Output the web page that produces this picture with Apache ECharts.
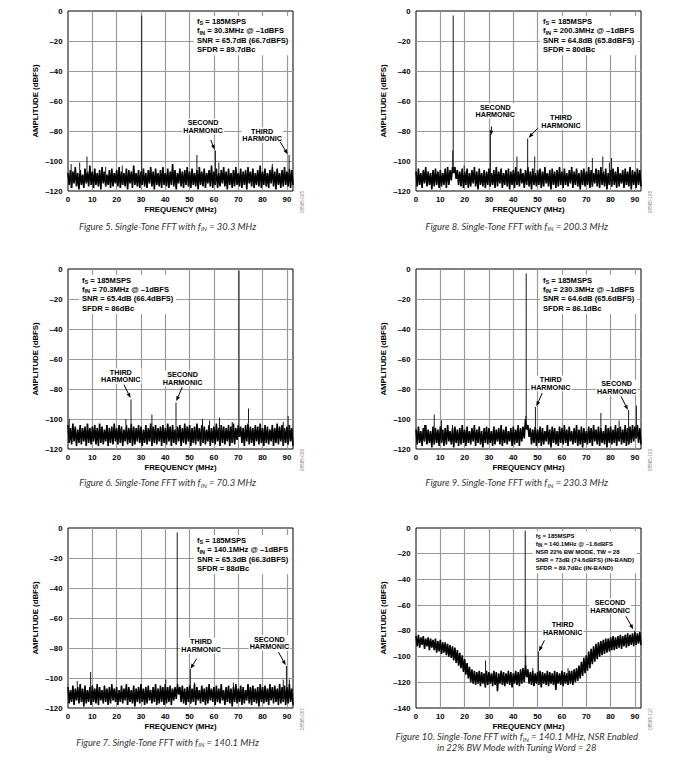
<!DOCTYPE html>
<html><head><meta charset="utf-8">
<script src="https://cdn.jsdelivr.net/npm/echarts@6/dist/echarts.min.js"></script>
<style>html,body{margin:0;padding:0;background:#fff}#c{width:690px;height:771px}</style>
</head><body><div id="c"></div>
<script>
// ---------------- DATA ----------------
const binStep = 0.5;            // MHz between plotted FFT bins (0 .. 92.5 MHz)
const freqMax = 92.5;           // fS/2
const yTicks120 = [-120, 0];    // dBFS range, standard plots
const yTicks140 = [-140, 0];    // dBFS range, NSR plot

// Figure 5, fIN = 30.3 MHz
const noise5 = [
-108,-116,-106,-118,-107,-115,-104,-117,-108,-119,-106,-116,-109,-118,-105,-115,-107,-117,-103,-116,
-107,-118,-105,-116,-108,-117,-106,-119,-104,-115,-107,-117,-109,-116,-106,-118,-105,-117,-108,-115,
-106,-117,-104,-118,-107,-116,-108,-117,-105,-119,-106,-115,-107,-118,-103,-116,-108,-117,-106,-118,
-107,-116,-105,-117,-108,-118,-106,-115,-104,-117,-107,-119,-105,-116,-108,-117,-106,-118,-104,-116,
-108,-117,-105,-118,-107,-116,-102,-117,-106,-119,-108,-115,-105,-117,-107,-118,-106,-116,-104,-117,
-107,-118,-105,-116,-108,-117,-106,-119,-104,-116,-107,-117,-105,-118,-108,-115,-106,-117,-103,-118,
-107,-116,-105,-118,-108,-117,-106,-115,-104,-117,-107,-119,-105,-116,-108,-118,-106,-117,-104,-116,
-108,-117,-105,-118,-107,-116,-106,-119,-104,-115,-107,-117,-105,-118,-108,-116,-106,-117,-103,-118,
-107,-116,-105,-117,-108,-118,-106,-115,-104,-117,-107,-119,-105,-116,-108,-118,-106,-117,-104,-116,
-107,-117,-105,-118,-106,-116];
const spurs5 = [[30.3,-3],[60.6,-93],[90.9,-96],[7.8,-97],[53.0,-96],[1.3,-102],[4.8,-101],[22.3,-103],[62.0,-101],[84.0,-102],[15.5,-104]];

// Figure 8, fIN = 200.3 MHz
const noise8 = [
-107,-117,-105,-116,-108,-118,-106,-115,-104,-117,-107,-116,-108,-119,-106,-117,-105,-116,-107,-118,
-106,-117,-108,-116,-105,-118,-104,-116,-106,-113,-104,-108,-104,-112,-106,-116,-107,-117,-105,-118,
-107,-116,-105,-118,-108,-117,-106,-115,-104,-117,-107,-119,-105,-116,-108,-117,-106,-118,-107,-116,
-105,-117,-108,-116,-106,-118,-104,-117,-107,-115,-105,-118,-108,-116,-106,-117,-105,-119,-107,-116,
-106,-118,-104,-116,-107,-117,-105,-115,-108,-118,-106,-116,-104,-117,-107,-119,-105,-116,-108,-117,
-106,-116,-105,-118,-107,-117,-104,-115,-108,-117,-106,-119,-105,-116,-107,-118,-106,-117,-104,-116,
-107,-118,-105,-116,-108,-117,-106,-115,-104,-118,-107,-116,-105,-117,-108,-119,-106,-116,-105,-117,
-107,-116,-104,-118,-106,-117,-108,-115,-105,-117,-106,-118,-104,-116,-107,-117,-105,-119,-108,-116,
-106,-117,-105,-116,-107,-118,-104,-117,-108,-115,-106,-118,-105,-116,-107,-117,-104,-119,-106,-116,
-107,-118,-105,-116,-106,-117];
const spurs8 = [[15.1,-93],[15.3,-3],[30.6,-82],[45.9,-85],[41.5,-97],[48.8,-97],[72.5,-98],[76.8,-97],[80.4,-98],[79.5,-101],[19.8,-103]];

// Figure 6, fIN = 70.3 MHz
const noise6 = [
-104,-116,-106,-117,-103,-115,-105,-118,-107,-116,-104,-117,-106,-115,-105,-118,-103,-116,-106,-117,
-105,-115,-104,-117,-106,-118,-103,-116,-105,-117,-107,-115,-104,-118,-106,-116,-105,-117,-103,-115,
-106,-117,-104,-116,-105,-118,-107,-115,-104,-117,-106,-116,-103,-118,-105,-117,-106,-115,-104,-116,
-105,-118,-107,-116,-104,-117,-106,-115,-103,-118,-105,-116,-104,-117,-106,-115,-105,-118,-104,-116,
-106,-117,-103,-115,-105,-118,-104,-116,-107,-117,-105,-115,-104,-118,-106,-116,-103,-117,-105,-115,
-104,-118,-106,-116,-105,-117,-103,-115,-106,-118,-104,-116,-105,-117,-107,-115,-104,-118,-106,-116,
-105,-117,-103,-115,-106,-118,-104,-116,-105,-117,-106,-115,-104,-118,-105,-116,-103,-117,-106,-114,
-104,-112,-105,-116,-106,-118,-104,-115,-103,-117,-105,-116,-106,-118,-104,-115,-105,-117,-103,-116,
-106,-118,-104,-116,-105,-117,-107,-115,-104,-118,-106,-116,-103,-117,-105,-115,-104,-118,-106,-116,
-105,-117,-104,-115,-106,-118];
const spurs6 = [[70.3,-1],[25.9,-87],[44.4,-89],[34.5,-97],[62.3,-99],[74.2,-93],[90.5,-98],[55.3,-100],[23.8,-100],[0.5,-100],[67.5,-102],[58.2,-101],[88.5,-102]];

// Figure 9, fIN = 230.3 MHz
const noise9 = [
-107,-117,-105,-116,-108,-118,-106,-115,-104,-117,-107,-116,-108,-119,-105,-117,-106,-116,-107,-118,
-105,-116,-107,-118,-106,-117,-104,-115,-108,-117,-106,-119,-105,-116,-107,-118,-106,-117,-104,-116,
-107,-118,-105,-116,-108,-117,-106,-115,-104,-118,-107,-116,-105,-117,-108,-119,-106,-116,-105,-117,
-106,-116,-108,-118,-105,-117,-107,-115,-106,-117,-104,-118,-107,-116,-105,-117,-108,-115,-106,-118,
-105,-117,-107,-116,-104,-118,-106,-115,-105,-113,-100,-107,-104,-112,-106,-117,-107,-116,-105,-118,
-107,-116,-105,-118,-106,-117,-108,-115,-104,-117,-107,-119,-105,-116,-106,-117,-108,-118,-105,-116,
-106,-117,-104,-116,-107,-118,-105,-115,-108,-117,-106,-116,-104,-118,-107,-117,-105,-119,-106,-116,
-108,-117,-105,-116,-106,-118,-104,-115,-107,-117,-105,-118,-106,-116,-108,-117,-104,-119,-106,-116,
-105,-117,-107,-116,-104,-118,-106,-115,-105,-117,-107,-116,-104,-118,-106,-117,-105,-116,-104,-115,
-105,-113,-104,-116,-106,-117];
const spurs9 = [[45.3,-3],[45.2,-98],[49.1,-92],[87.4,-94],[90.6,-91],[76.0,-96],[7.5,-97],[10.5,-101],[83.5,-101],[15.0,-104],[3.5,-104]];

// Figure 7, fIN = 140.1 MHz
const noise7 = [
-106,-117,-108,-116,-105,-118,-107,-115,-106,-117,-104,-116,-107,-119,-105,-117,-108,-116,-106,-118,
-105,-116,-107,-117,-104,-118,-106,-115,-108,-117,-105,-116,-107,-118,-106,-117,-104,-115,-107,-116,
-106,-118,-108,-116,-105,-117,-107,-115,-104,-118,-106,-116,-108,-117,-105,-119,-107,-116,-106,-117,
-104,-116,-107,-118,-106,-117,-105,-115,-108,-117,-106,-116,-104,-118,-107,-117,-105,-116,-106,-118,
-104,-117,-106,-116,-105,-118,-107,-115,-106,-114,-104,-111,-106,-116,-105,-117,-107,-118,-106,-116,
-105,-117,-107,-116,-104,-118,-106,-115,-108,-117,-105,-116,-107,-118,-106,-117,-104,-115,-107,-116,
-106,-118,-105,-116,-107,-117,-104,-115,-108,-118,-106,-116,-105,-117,-107,-119,-106,-116,-104,-117,
-107,-116,-105,-118,-106,-117,-108,-115,-104,-117,-106,-118,-105,-116,-107,-117,-106,-119,-104,-116,
-106,-117,-105,-116,-107,-118,-104,-115,-106,-117,-105,-116,-107,-118,-104,-117,-106,-116,-105,-118,
-106,-117,-104,-116,-107,-118];
const spurs7 = [[44.9,-3],[50.3,-94],[89.8,-92],[9.3,-96],[40.2,-101],[3.8,-102],[88.5,-101],[91.0,-101],[52.0,-103],[68.0,-103]];

// Figure 10, fIN = 140.1 MHz, NSR enabled
const noise10 = [
-84,-92,-83,-93,-85,-91,-84,-94,-86,-92,-85,-95,-86,-93,-87,-95,-86,-97,-88,-96,
-87,-98,-89,-97,-89,-99,-90,-100,-91,-101,-92,-103,-93,-105,-95,-107,-97,-109,-99,-112,
-102,-114,-105,-117,-108,-120,-110,-121,-111,-122,-112,-121,-111,-123,-112,-121,-113,-124,-111,-122,
-112,-121,-113,-123,-111,-122,-112,-127,-113,-121,-111,-122,-112,-123,-113,-121,-111,-122,-112,-124,
-113,-121,-111,-122,-112,-123,-110,-121,-109,-120,-106,-116,-110,-121,-112,-122,-111,-123,-113,-121,
-112,-122,-111,-124,-112,-121,-113,-122,-111,-123,-112,-121,-113,-122,-111,-126,-112,-121,-113,-122,
-111,-123,-112,-121,-113,-122,-111,-121,-111,-122,-110,-120,-109,-119,-107,-117,-104,-115,-101,-113,
-99,-111,-96,-109,-94,-106,-92,-104,-90,-102,-89,-100,-88,-99,-87,-98,-86,-97,-86,-96,
-85,-95,-84,-95,-85,-94,-84,-93,-83,-94,-84,-92,-83,-93,-82,-92,-83,-91,-82,-92,
-81,-91,-82,-90,-81,-91];
const spurs10 = [[28.6,-103],[44.9,-2],[45.1,-99],[50.3,-96],[48.0,-109],[62.5,-109],[89.8,-80]];

// Text
const notes5  = ['f{s|S} = 185MSPS','f{s|IN} = 30.3MHz @ –1dBFS','SNR = 65.7dB (66.7dBFS)','SFDR = 89.7dBc'];
const notes8  = ['f{s|S} = 185MSPS','f{s|IN} = 200.3MHz @ –1dBFS','SNR = 64.8dB (65.8dBFS)','SFDR = 80dBc'];
const notes6  = ['f{s|S} = 185MSPS','f{s|IN} = 70.3MHz @ –1dBFS','SNR = 65.4dB (66.4dBFS)','SFDR = 86dBc'];
const notes9  = ['f{s|S} = 185MSPS','f{s|IN} = 230.3MHz @ –1dBFS','SNR = 64.6dB (65.6dBFS)','SFDR = 86.1dBc'];
const notes7  = ['f{s|S} = 185MSPS','f{s|IN} = 140.1MHz @ –1dBFS','SNR = 65.3dB (66.3dBFS)','SFDR = 88dBc'];
const notes10 = ['f{s|S} = 185MSPS','f{s|IN} = 140.1MHz @ –1.6dBFS','NSR 22% BW MODE, TW = 28','SNR = 73dB (74.6dBFS) (IN-BAND)','SFDR = 89.7dBc (IN-BAND)'];
const captions = [
  'Figure 5. Single-Tone FFT with f{s|IN} = 30.3 MHz',
  'Figure 8. Single-Tone FFT with f{s|IN} = 200.3 MHz',
  'Figure 6. Single-Tone FFT with f{s|IN} = 70.3 MHz',
  'Figure 9. Single-Tone FFT with f{s|IN} = 230.3 MHz',
  'Figure 7. Single-Tone FFT with f{s|IN} = 140.1 MHz',
  'Figure 10. Single-Tone FFT with f{s|IN} = 140.1 MHz, NSR Enabled\nin 22% BW Mode with Tuning Word = 28'];
const figIds = ['08565-005','08565-108','08565-006','08565-109','08565-007','08565-110'];
const harmonicLabels = [
  [{t:'SECOND\nHARMONIC', at:[55.5,-77.1], from:[58.7,-86], to:[60.3,-92.5]},
   {t:'THIRD\nHARMONIC',  at:[79.8,-82.7], from:[87.2,-87.1], to:[90.3,-95.5]}],
  [{t:'SECOND\nHARMONIC', at:[32.6,-66.7], from:[31.1,-77], to:[30.8,-83]},
   {t:'THIRD\nHARMONIC',  at:[59.6,-73.9], from:[50,-78.2], to:[46.3,-84.5]}],
  [{t:'THIRD\nHARMONIC',  at:[21.7,-71.3], from:[23,-77.1], to:[25.7,-86]},
   {t:'SECOND\nHARMONIC', at:[47.1,-72.9], from:[47,-78.7], to:[44.5,-88]}],
  [{t:'THIRD\nHARMONIC',  at:[55.4,-76.3], from:[51.9,-82.7], to:[49.5,-91.5]},
   {t:'SECOND\nHARMONIC', at:[82.5,-79], from:[84.3,-84.9], to:[87.1,-94]}],
  [{t:'THIRD\nHARMONIC',  at:[54.7,-78.4], from:[52.9,-87.1], to:[50.4,-93.8]},
   {t:'SECOND\nHARMONIC', at:[82.8,-76.7], from:[86.5,-82.7], to:[89.5,-91.5]}],
  [{t:'THIRD\nHARMONIC',  at:[60.3,-78.2], from:[52.8,-87.4], to:[50.5,-96]},
   {t:'SECOND\nHARMONIC', at:[79.8,-60.9], from:[86.3,-68.7], to:[89.3,-78.8]}]];

// ---------------- LAYOUT ----------------
const panels = [
  {noise:noise5,  spurs:spurs5,  notes:notes5,  yr:yTicks120, left:68,  top:11,  note:[126,5],   cap:[167.5,226]},
  {noise:noise8,  spurs:spurs8,  notes:notes8,  yr:yTicks120, left:416, top:11,  note:[124,5],   cap:[516.7,226]},
  {noise:noise6,  spurs:spurs6,  notes:notes6,  yr:yTicks120, left:68,  top:269, note:[11,5.7],  cap:[167.5,482.7]},
  {noise:noise9,  spurs:spurs9,  notes:notes9,  yr:yTicks120, left:416, top:269, note:[124,5.7], cap:[516.7,482.7]},
  {noise:noise7,  spurs:spurs7,  notes:notes7,  yr:yTicks120, left:68,  top:528, note:[126,7],   cap:[167.5,742.3]},
  {noise:noise10, spurs:spurs10, notes:notes10, yr:yTicks140, left:416, top:528, note:[116.7,3.3], cap:[516.7,742.3], small:true}
];
const W = 225, H = 180;
const FONT = '"Liberation Sans", Arial, sans-serif';

const noisePts = noise => noise.map((v,i)=>[i*binStep, v]);
// each spur rises from the noise value of its nearest bin
const spurPts = (noise, spurs) => spurs.map(s => [s[0], s[1], noise[Math.min(noise.length-1, Math.round(s[0]/binStep))]]);
const dash = v => v < 0 ? '–' + (-v) : String(v);

const option = {animation:false, backgroundColor:'#fff', grid:[], xAxis:[], yAxis:[], series:[]};
panels.forEach((p,i)=>{
  option.grid.push({left:p.left, top:p.top, width:W, height:H, show:true, borderColor:'#000', borderWidth:1, backgroundColor:'transparent'});
  option.xAxis.push({type:'value', gridIndex:i, min:0, max:freqMax, interval:10,
    name:'FREQUENCY (MHz)', nameLocation:'middle', nameGap:14,
    nameTextStyle:{fontFamily:FONT, fontWeight:'bold', fontSize:7.8, color:'#000'},
    axisLine:{show:false}, axisTick:{show:false},
    axisLabel:{fontFamily:FONT, fontWeight:'bold', fontSize:7.8, color:'#000', margin:4, showMaxLabel:false},
    splitLine:{show:true, showMinLine:false, showMaxLine:false, lineStyle:{color:'#9a9a9a', width:1.2}}});
  option.yAxis.push({type:'value', gridIndex:i, min:p.yr[0], max:p.yr[1], interval:20,
    name:'AMPLITUDE (dBFS)', nameLocation:'middle', nameGap:29, nameRotate:90,
    nameTextStyle:{fontFamily:FONT, fontWeight:'bold', fontSize:7.8, color:'#000'},
    axisLine:{show:false}, axisTick:{show:false},
    axisLabel:{fontFamily:FONT, fontWeight:'bold', fontSize:7.8, color:'#000', margin:5.5, formatter:dash},
    splitLine:{show:true, showMinLine:false, showMaxLine:false, lineStyle:{color:'#9a9a9a', width:1.2}}});
  option.series.push({type:'line', xAxisIndex:i, yAxisIndex:i, data:noisePts(p.noise),
    symbol:'none', silent:true, lineStyle:{color:'#000', width:1.6, join:'bevel'}, z:3});
  option.series.push({type:'custom', xAxisIndex:i, yAxisIndex:i, data:spurPts(p.noise, p.spurs), silent:true, z:4,
    encode:{x:0, y:1},
    renderItem:(params, api)=>{
      const top = api.coord([api.value(0), api.value(1)]);
      const base = api.coord([api.value(0), api.value(2)]);
      return {type:'line', shape:{x1:top[0], y1:top[1], x2:base[0], y2:base[1]}, style:{stroke:'#1a1a1a', lineWidth:1}};
    }});
});

const chart = echarts.init(document.getElementById('c'), null, {renderer:'svg'});
chart.setOption(option);

const g = [];
panels.forEach((p,i)=>{
  const fs = p.small ? 6 : 7.6, lh = p.small ? 8 : 9.3, sfs = p.small ? 4.6 : 5.6;
  g.push({type:'text', x:p.left + p.note[0], y:p.top + p.note[1], z:100,
    style:{text:p.notes.join('\n'), fontFamily:FONT, fontWeight:'bold', fontSize:fs, lineHeight:lh,
      fill:'#000', align:'left', verticalAlign:'top', backgroundColor:'#fff', padding:[1,3,1,3],
      rich:{s:{fontFamily:FONT, fontWeight:'bold', fontSize:sfs, lineHeight:sfs, verticalAlign:'bottom', fill:'#000'}}}});
  harmonicLabels[i].forEach(h=>{
    const c = chart.convertToPixel({gridIndex:i}, h.at);
    g.push({type:'text', x:c[0], y:c[1], z:100,
      style:{text:h.t, fontFamily:FONT, fontWeight:'bold', fontSize:7.2, lineHeight:7.8, fill:'#000',
        align:'center', verticalAlign:'middle', backgroundColor:'#fff', padding:[0,1,0,1]}});
    const a = chart.convertToPixel({gridIndex:i}, h.from), b = chart.convertToPixel({gridIndex:i}, h.to);
    const dx = b[0]-a[0], dy = b[1]-a[1], L = Math.hypot(dx,dy), ux = dx/L, uy = dy/L;
    const hl = 5, hw = 1.9, bx = b[0]-ux*hl, by = b[1]-uy*hl;
    g.push({type:'line', z:101, shape:{x1:a[0], y1:a[1], x2:bx, y2:by}, style:{stroke:'#000', lineWidth:1}});
    g.push({type:'polygon', z:101, shape:{points:[[b[0],b[1]],[bx-uy*hw, by+ux*hw],[bx+uy*hw, by-ux*hw]]}, style:{fill:'#000'}});
  });
  g.push({type:'text', x:p.cap[0], y:p.cap[1], z:100,
    style:{text:captions[i], fontFamily:'Lato, "Open Sans", sans-serif', fontStyle:'italic', fontSize:9.4, lineHeight:11,
      fill:'#333', align:'center', verticalAlign:'middle',
      rich:{s:{fontFamily:'Lato, "Open Sans", sans-serif', fontStyle:'italic', fontSize:6.2, lineHeight:6, verticalAlign:'bottom', fill:'#333'}}}});
  g.push({type:'text', x:p.left + W + 9, y:p.top + H + 11, rotation:Math.PI/2, z:100,
    style:{text:figIds[i], fontFamily:FONT, fontSize:4.6, fill:'#777', align:'center', verticalAlign:'middle'}});
});
chart.setOption({graphic:g});
</script></body></html>
